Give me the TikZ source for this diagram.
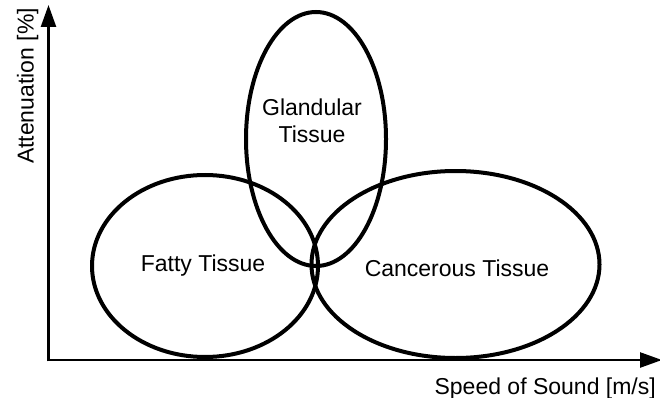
\documentclass[tikz,border=0pt]{standalone}
\usepackage{fontspec}
\setmainfont{Liberation Sans}
\usetikzlibrary{shapes.geometric,arrows.meta}
\begin{document}
\begin{tikzpicture}[x=1pt,y=-1pt,
  region/.style={draw, ellipse, line width=4pt, inner sep=0pt},
  axisline/.style={line width=2.5pt, -{Triangle[length=22pt,width=15pt]}},
  lbl/.style={font=\fontsize{23}{27}\selectfont, inner sep=0pt, align=center}]
\useasboundingbox (0,0) rectangle (660,398);
% axes
\coordinate (O) at (48.5,360);
\coordinate (ytop) at (48.5,5);
\coordinate (xend) at (662,360);
\draw[axisline] ([yshift=-1.25pt]O) -- (ytop);
\draw[axisline] ([xshift=-1.25pt]O) -- (xend);
% regions
\node[region, minimum width=226pt, minimum height=182pt] (fatty) at (205,266) {};
\node[region, minimum width=140pt, minimum height=254pt] (gland) at (316,139) {};
\node[region, minimum width=288pt, minimum height=187pt] (cancer) at (455.5,264.5) {};
% labels
\node[lbl, anchor=base] (tfatty) at (203,271) {Fatty Tissue};
\node[lbl, anchor=base] (tcancer) at (457,276) {Cancerous Tissue};
\node[lbl] (tgland) at (312,121) {Glandular\\Tissue};
\node[lbl, rotate=90, anchor=base] (ylab) at (33.5,86) {Attenuation [\%]};
\node[lbl, anchor=base east] (xlab) at (656,394.5) {Speed of Sound [m/s]};
\end{tikzpicture}
\end{document}
